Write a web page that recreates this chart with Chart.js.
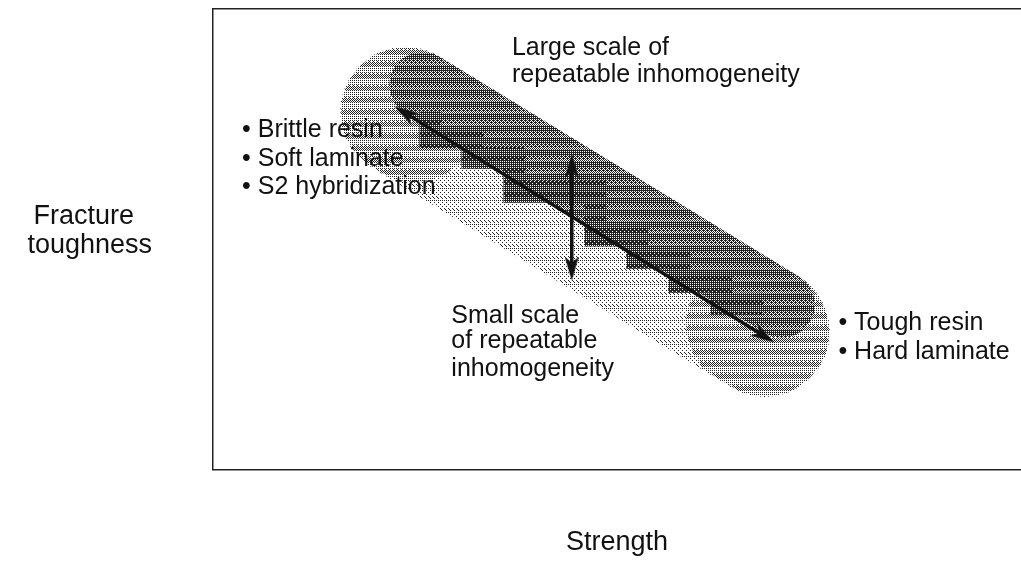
<!DOCTYPE html>
<html>
<head>
<meta charset="utf-8">
<script src="https://cdn.jsdelivr.net/npm/chart.js@4.4.1/dist/chart.umd.min.js"></script>
<style>
html, body { margin: 0; padding: 0; background: #fff; overflow: hidden; }
#wrap { width: 1021px; height: 563px; }
</style>
</head>
<body>
<div id="wrap"><canvas id="chart"></canvas></div>
<script>
/* global Chart */

// strength (x) vs fracture toughness (y), arbitrary 0..100 units
const bandX = [23.8, 68.3];
const bandY = [77.7, 29.9];
const darkX = [25.9, 70.4];
const darkY = [83.5, 35.8];
const headX = [23.8, 25.0];
const headY = [77.7, 76.4];
const tailX = [66.5, 68.3];
const tailY = [31.8, 29.9];
const stairX = [26.9, 32.1, 37.3, 47.3, 52.5, 57.7, 62.9, 68.1];
const stairY = [77.7, 72.2, 67.7, 60.3, 50.8, 46.0, 40.8, 36.0];
const trendX = [23.7, 68.2];
const trendY = [77.5, 29.0];
const spreadX = [44.4, 44.4];
const spreadY = [66.0, 43.6];

const labelText = ['Large scale of', 'repeatable inhomogeneity',
  '\u2022 Brittle resin', '\u2022 Soft laminate', '\u2022 S2 hybridization',
  'Small scale', 'of repeatable', 'inhomogeneity',
  '\u2022 Tough resin', '\u2022 Hard laminate'];
const labelX = [37.0, 37.0, 3.6, 3.6, 3.6, 29.5, 29.5, 29.5, 77.4, 77.4];
const labelY = [91.5, 85.7, 73.8, 67.5, 61.4, 33.4, 27.8, 21.9, 31.9, 25.6];

const xTitle = 'Strength';
const yTitle = ['Fracture', 'toughness'];

const FONT = '"Liberation Sans", Arial, Helvetica, sans-serif';
const INK = '#111';

// halftone texture like the printed figure
const bayer = [[0, 8, 2, 10], [12, 4, 14, 6], [3, 11, 1, 9], [15, 7, 13, 5]];
function dither(levels) {
  const c = document.createElement('canvas');
  c.width = 8;
  c.height = levels.length;
  const g = c.getContext('2d');
  g.fillStyle = '#fff';
  g.fillRect(0, 0, c.width, c.height);
  g.fillStyle = '#222';
  for (let r = 0; r < levels.length; r++) {
    for (let x = 0; x < 8; x++) {
      if (bayer[r % 4][x % 4] < levels[r] * 16) g.fillRect(x, r, 1, 1);
    }
  }
  return g.createPattern(c, 'repeat');
}
const lightTex = dither([0.12, 0.2, 0.1, 0.25, 0.12, 0.3, 0.15, 0.1, 0.2, 0.25, 0.1, 0.15]);
const midTex = dither([0.25, 0.35, 0.2, 0.45, 0.25, 0.4, 0.3, 0.2, 0.35, 0.25, 0.4, 0.25]);
const darkTex = dither([0.55, 0.7, 0.6, 0.8, 0.5, 0.65, 0.75, 0.6, 0.7, 0.55, 0.8, 0.6]);
const stairTex = dither([0.65, 0.8, 0.75, 0.9, 0.65, 0.75, 0.85, 0.7, 0.8, 0.65, 0.9, 0.75]);

// narrow arrowhead, tip pointing up, used as point style
function arrowHead() {
  const c = document.createElement('canvas');
  c.width = 14;
  c.height = 24;
  const g = c.getContext('2d');
  g.fillStyle = INK;
  g.beginPath();
  g.moveTo(7, 0);
  g.lineTo(14, 24);
  g.lineTo(7, 18);
  g.lineTo(0, 24);
  g.closePath();
  g.fill();
  return c;
}
const head = arrowHead();

const pts = (xs, ys) => xs.map((v, i) => ({ x: v, y: ys[i] }));

const textPlugin = {
  id: 'texts',
  afterDatasetsDraw(chart) {
    const ctx = chart.ctx;
    const sx = chart.scales.x;
    const sy = chart.scales.y;
    const area = chart.chartArea;
    ctx.save();
    ctx.fillStyle = INK;
    ctx.textBaseline = 'middle';
    ctx.textAlign = 'left';
    ctx.font = '25px ' + FONT;
    labelText.forEach((t, i) => {
      ctx.fillText(t, sx.getPixelForValue(labelX[i]), sy.getPixelForValue(labelY[i]));
    });
    // y title, horizontal, left of the frame
    ctx.font = '27px ' + FONT;
    const w = ctx.measureText(yTitle[1]).width;
    const x0 = area.left - 61 - w;
    ctx.fillText(yTitle[0], x0 + 6, area.top + 208);
    ctx.fillText(yTitle[1], x0, area.top + 237);
    ctx.restore();
  }
};

const hidden = { display: false, drawTicks: false, tickLength: 0 };
const band = (xs, ys, w, tex, order) => ({
  data: pts(xs, ys), showLine: true, borderWidth: w, order: order,
  borderColor: tex, borderCapStyle: 'round', pointRadius: 0
});

new Chart(document.getElementById('chart'), {
  type: 'scatter',
  data: {
    datasets: [
      band(bandX, bandY, 130, lightTex, 8),
      band(headX, headY, 128, midTex, 7),
      band(tailX, tailY, 128, midTex, 6),
      band(darkX, darkY, 66, darkTex, 5),
      {
        data: pts(stairX, stairY), showLine: true, stepped: 'after', borderWidth: 22, order: 3,
        borderColor: stairTex, borderCapStyle: 'butt', borderJoinStyle: 'miter', pointRadius: 0
      },
      {
        data: pts(trendX, trendY), showLine: true, borderWidth: 3.5, order: 1,
        borderColor: INK, pointStyle: head, pointRotation: [-58.1, 121.9]
      },
      {
        data: pts(spreadX, spreadY), showLine: true, borderWidth: 3.5, order: 0,
        borderColor: INK, pointStyle: head, pointRotation: [0, 180]
      }
    ]
  },
  options: {
    responsive: true,
    maintainAspectRatio: false,
    devicePixelRatio: 1,
    animation: false,
    events: [],
    layout: { autoPadding: false, padding: { left: 213, top: 9, right: 0, bottom: 0 } },
    plugins: { legend: { display: false }, tooltip: { enabled: false } },
    scales: {
      x: {
        type: 'linear', min: 0, max: 100,
        grid: hidden, ticks: { display: false, padding: 0 },
        border: { display: true, color: '#222', width: 1.5 },
        title: {
          display: true, text: xTitle, color: INK,
          font: { family: FONT, size: 27 }, padding: { top: 57, bottom: 4 }
        }
      },
      x2: {
        type: 'linear', position: 'top', min: 0, max: 100,
        grid: hidden, ticks: { display: false, padding: 0 },
        border: { display: true, color: '#222', width: 1.5 }
      },
      y: {
        type: 'linear', min: 0, max: 100,
        grid: hidden, ticks: { display: false, padding: 0 },
        border: { display: true, color: '#222', width: 1.5 }
      }
    }
  },
  plugins: [textPlugin]
});
</script>
</body>
</html>
